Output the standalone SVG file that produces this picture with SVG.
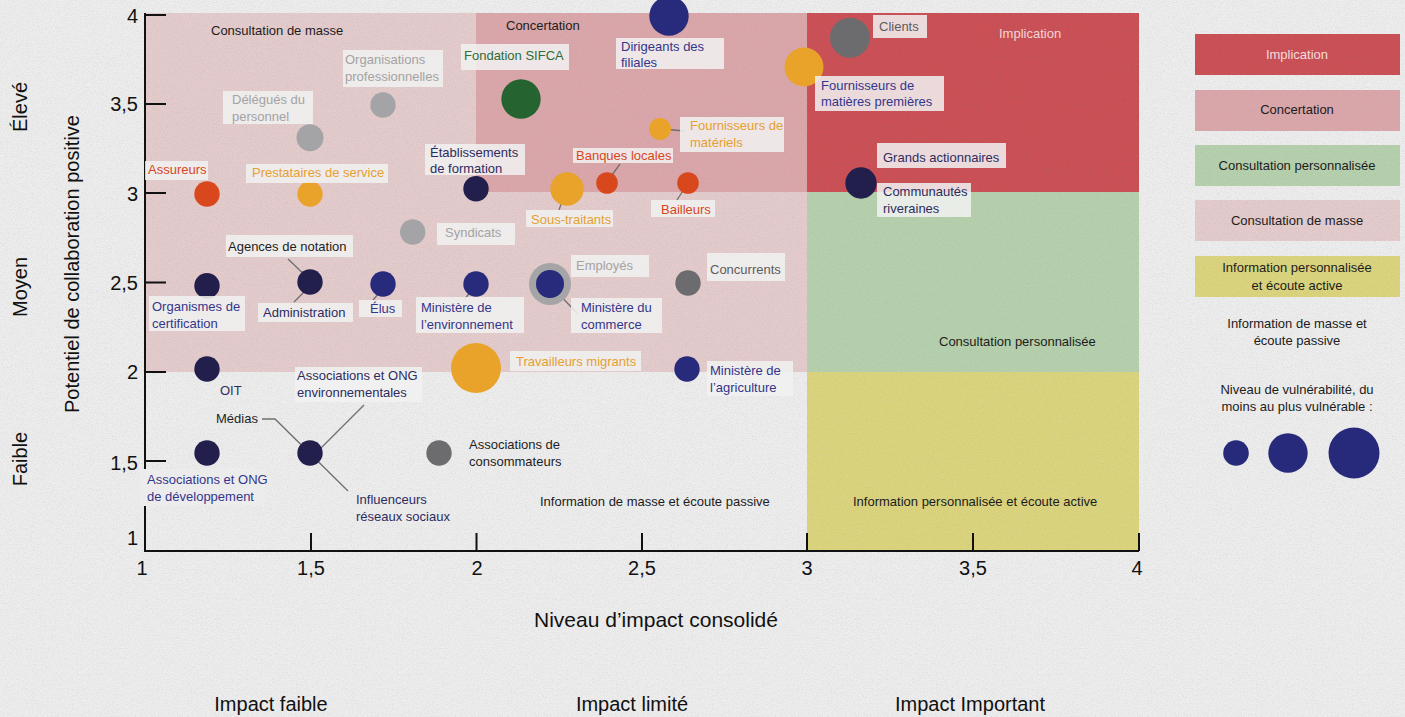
<svg xmlns="http://www.w3.org/2000/svg" width="1405" height="717" viewBox="0 0 1405 717">
  <defs>
    <filter id="grain" filterUnits="userSpaceOnUse" x="0" y="0" width="1405" height="717">
      <feTurbulence type="fractalNoise" baseFrequency="0.8" numOctaves="3" seed="7" stitchTiles="stitch"/>
      <feColorMatrix type="matrix" values="0 0 0 0 0.3  0 0 0 0 0.3  0 0 0 0 0.3  1.3 0 0 0 -0.55"/>
    </filter>
    <style>
      text{font-family:"Liberation Sans",Arial,sans-serif}
      .lbl{font-size:13px}
      .big{font-size:20px;fill:#111}
      .zone{font-size:13px;fill:#1c1c1c}
      .box{fill:#f1f1f1;fill-opacity:.86}
      .lead{stroke:#6f6f6f;stroke-width:1.3;fill:none}
      .axis{stroke:#111;stroke-width:2;fill:none}
      .c-navy{fill:#221f4d}
      .c-blue{fill:#282a7c}
      .c-orange{fill:#e9a32b}
      .c-red{fill:#d9481c}
      .c-lgray{fill:#a4a4a6}
      .c-dgray{fill:#6c6c6e}
      .c-green{fill:#256331}
      .t-navy{fill:#2d2c5e}
      .t-blue{fill:#34368a}
      .t-orange{fill:#e5a030}
      .t-red{fill:#d8461c}
      .t-lgray{fill:#a3a3a3}
      .t-dgray{fill:#5c5c5c}
      .t-green{fill:#2e6d36}
      .t-black{fill:#1e1e1e}
    </style>
  </defs>

  <!-- paper background -->
  <rect width="1405" height="717" fill="#ededed"/>

  <!-- engagement zones -->
  <g id="zones">
    <rect x="145" y="13" width="662" height="359" fill="#e4cbcc"/>
    <rect x="476" y="13" width="331" height="179" fill="#dba6aa"/>
    <rect x="807" y="13" width="332" height="179" fill="#ca4e54"/>
    <rect x="807" y="192" width="332" height="180" fill="#b5d0ac"/>
    <rect x="807" y="372" width="332" height="179" fill="#dbd47c"/>
  </g>

  <!-- legend swatches -->
  <g id="legend-swatches">
    <rect x="1195" y="34" width="205" height="41" fill="#ca4e54"/>
    <rect x="1195" y="90" width="205" height="41" fill="#dba6aa"/>
    <rect x="1195" y="145" width="205" height="41" fill="#b5d0ac"/>
    <rect x="1195" y="200" width="205" height="41" fill="#e4cbcc"/>
    <rect x="1195" y="256" width="205" height="41" fill="#dbd47c"/>
  </g>

  <!-- paper grain -->
  <rect width="1405" height="717" filter="url(#grain)" opacity="0.3"/>

  <!-- zone titles -->
  <g id="zone-titles">
    <text class="zone" x="211" y="34.5">Consultation de masse</text>
    <text class="zone" x="506" y="29.5">Concertation</text>
    <text class="zone" x="999" y="37.5" style="fill:#f4d6d6">Implication</text>
    <text class="zone" x="939" y="346">Consultation personnalisée</text>
    <text class="zone" x="540" y="506">Information de masse et écoute passive</text>
    <text class="zone" x="853" y="506">Information personnalisée et écoute active</text>
  </g>

  <!-- axes -->
  <g id="axes">
    <path class="axis" d="M145 13 V551 H1139"/>
    <path class="axis" d="M145 15 H166 M145 104 H166 M145 193 H166 M145 282.5 H166 M145 372 H166 M145 461 H166"/>
    <path class="axis" d="M311 551 V533 M476.5 551 V533 M642 551 V533 M807 551 V533 M973 551 V533 M1139 551 V533"/>
    <g class="big" text-anchor="end">
      <text x="138" y="23">4</text>
      <text x="138" y="111">3,5</text>
      <text x="138" y="201">3</text>
      <text x="138" y="290">2,5</text>
      <text x="138" y="379">2</text>
      <text x="138" y="470">1,5</text>
      <text x="138" y="545">1</text>
    </g>
    <g class="big" text-anchor="middle">
      <text x="142" y="575">1</text>
      <text x="311" y="575">1,5</text>
      <text x="477" y="575">2</text>
      <text x="642" y="575">2,5</text>
      <text x="807" y="575">3</text>
      <text x="973" y="575">3,5</text>
      <text x="1137" y="575">4</text>
      <text x="656" y="627" style="font-size:21px">Niveau d’impact consolidé</text>
      <text x="271" y="711">Impact faible</text>
      <text x="632" y="711">Impact limité</text>
      <text x="970" y="711">Impact Important</text>
      <text transform="translate(79 264) rotate(-90)">Potentiel de collaboration positive</text>
      <text transform="translate(27 107) rotate(-90)">Élevé</text>
      <text transform="translate(27 287) rotate(-90)">Moyen</text>
      <text transform="translate(27 459) rotate(-90)">Faible</text>
    </g>
  </g>

  <!-- leader lines -->
  <g id="connectors">
    <path class="lead" d="M662 129 L685 131"/>
    <path class="lead" d="M607 182 L620 164"/>
    <path class="lead" d="M688 183 L677 200"/>
    <path class="lead" d="M566 190 L559 210"/>
    <path class="lead" d="M288 259 L313 283 L294 302"/>
    <path class="lead" d="M385 286 L373 300"/>
    <path class="lead" d="M475 285 L465 299"/>
    <path class="lead" d="M552 287 L577 313"/>
    <path class="lead" d="M364 405 L313 456"/>
    <path class="lead" d="M262 419 H275 L348 491"/>
  </g>

  <!-- stakeholders -->
  <g id="dirigeants-filiales">
    <circle class="c-blue" cx="669" cy="16" r="19.7"/>
    <rect class="box" x="616" y="38" width="108" height="31"/>
    <text class="lbl t-blue" x="621" y="51">Dirigeants des</text>
    <text class="lbl t-blue" x="621" y="67">filiales</text>
  </g>
  <g id="fondation-sifca">
    <circle class="c-green" cx="521" cy="99" r="19.7"/>
    <rect class="box" x="461" y="44" width="108" height="26"/>
    <text class="lbl t-green" x="464" y="60">Fondation SIFCA</text>
  </g>
  <g id="clients">
    <circle class="c-dgray" cx="850" cy="37.7" r="20"/>
    <rect class="box" x="873" y="15" width="54" height="23"/>
    <text class="lbl t-dgray" x="879" y="31">Clients</text>
  </g>
  <g id="fournisseurs-matieres">
    <circle class="c-orange" cx="804" cy="67" r="19.5"/>
    <rect class="box" x="815" y="76" width="129" height="35"/>
    <text class="lbl t-blue" x="821" y="89.5">Fournisseurs de</text>
    <text class="lbl t-blue" x="821" y="105.5">matières premières</text>
  </g>
  <g id="fournisseurs-materiels">
    <circle class="c-orange" cx="660" cy="129" r="11"/>
    <rect class="box" x="680" y="117" width="104" height="35"/>
    <text class="lbl t-orange" x="690" y="130">Fournisseurs de</text>
    <text class="lbl t-orange" x="690" y="147">matériels</text>
  </g>
  <g id="grands-actionnaires">
    <circle class="c-navy" cx="861" cy="183" r="15.7"/>
    <rect class="box" x="877" y="143" width="129" height="25"/>
    <text class="lbl t-navy" x="883" y="162">Grands actionnaires</text>
  </g>
  <g id="communautes-riveraines">
    <rect class="box" x="877" y="183" width="94" height="34"/>
    <text class="lbl t-navy" x="883" y="196">Communautés</text>
    <text class="lbl t-navy" x="883" y="213">riveraines</text>
  </g>
  <g id="banques-locales">
    <circle class="c-red" cx="607" cy="183" r="10.8"/>
    <rect class="box" x="573" y="148" width="100" height="15"/>
    <text class="lbl t-red" x="576" y="160">Banques locales</text>
  </g>
  <g id="bailleurs">
    <circle class="c-red" cx="688" cy="183" r="10.8"/>
    <rect class="box" x="651" y="200" width="64" height="17"/>
    <text class="lbl t-red" x="661" y="214">Bailleurs</text>
  </g>
  <g id="sous-traitants">
    <circle class="c-orange" cx="567" cy="189" r="16.7"/>
    <rect class="box" x="526" y="210" width="87" height="17"/>
    <text class="lbl t-orange" x="531" y="224">Sous-traitants</text>
  </g>
  <g id="etablissements-formation">
    <circle class="c-navy" cx="476" cy="188.7" r="12.7"/>
    <rect class="box" x="425" y="144" width="100" height="31"/>
    <text class="lbl t-navy" x="430" y="157">Établissements</text>
    <text class="lbl t-navy" x="430" y="173">de formation</text>
  </g>
  <g id="syndicats">
    <circle class="c-lgray" cx="412.7" cy="232" r="12.7"/>
    <rect class="box" x="437" y="223" width="78" height="22"/>
    <text class="lbl t-lgray" x="445" y="237">Syndicats</text>
  </g>
  <g id="assureurs">
    <circle class="c-red" cx="207" cy="194" r="12.7"/>
    <rect class="box" x="145" y="161" width="63" height="19"/>
    <text class="lbl t-red" x="148" y="174">Assureurs</text>
  </g>
  <g id="prestataires-service">
    <circle class="c-orange" cx="310" cy="194" r="12.7"/>
    <rect class="box" x="246" y="164" width="142" height="19"/>
    <text class="lbl t-orange" x="252" y="177">Prestataires de service</text>
  </g>
  <g id="delegues-personnel">
    <circle class="c-lgray" cx="310" cy="137.7" r="13.5"/>
    <rect class="box" x="223" y="91" width="90" height="33"/>
    <text class="lbl t-lgray" x="232" y="104">Délégués du</text>
    <text class="lbl t-lgray" x="232" y="120.5">personnel</text>
  </g>
  <g id="organisations-professionnelles">
    <circle class="c-lgray" cx="383" cy="105" r="12.7"/>
    <rect class="box" x="343" y="50" width="100" height="37"/>
    <text class="lbl t-lgray" x="345" y="64">Organisations</text>
    <text class="lbl t-lgray" x="345" y="81">professionnelles</text>
  </g>
  <g id="agences-notation">
    <rect class="box" x="226" y="235" width="127" height="22"/>
    <text class="lbl t-black" x="228" y="250.5">Agences de notation</text>
  </g>
  <g id="administration">
    <circle class="c-navy" cx="310" cy="282" r="12.7"/>
    <rect class="box" x="258" y="303" width="95" height="19"/>
    <text class="lbl t-navy" x="263" y="317">Administration</text>
  </g>
  <g id="organismes-certification">
    <circle class="c-navy" cx="207" cy="285.7" r="12.7"/>
    <rect class="box" x="149" y="296" width="96" height="35"/>
    <text class="lbl t-blue" x="152" y="311">Organismes de</text>
    <text class="lbl t-blue" x="152" y="328">certification</text>
  </g>
  <g id="elus">
    <circle class="c-blue" cx="383" cy="284" r="12.7"/>
    <rect class="box" x="359" y="300" width="43" height="17"/>
    <text class="lbl t-blue" x="370" y="313">Élus</text>
  </g>
  <g id="ministere-environnement">
    <circle class="c-blue" cx="476" cy="284" r="12.7"/>
    <rect class="box" x="416" y="297" width="108" height="36"/>
    <text class="lbl t-blue" x="421" y="312">Ministère de</text>
    <text class="lbl t-blue" x="421" y="328.5">l’environnement</text>
  </g>
  <g id="employes">
    <circle cx="550" cy="284" r="21" fill="#a5a5a7"/>
    <rect class="box" x="571" y="255" width="78" height="22"/>
    <text class="lbl t-lgray" x="576" y="270">Employés</text>
  </g>
  <g id="ministere-commerce">
    <circle class="c-blue" cx="550" cy="284" r="14"/>
    <rect class="box" x="571" y="298" width="91" height="35"/>
    <text class="lbl t-blue" x="581" y="312">Ministère du</text>
    <text class="lbl t-blue" x="581" y="329">commerce</text>
  </g>
  <g id="concurrents">
    <circle class="c-dgray" cx="688" cy="283" r="12.7"/>
    <rect class="box" x="707" y="253" width="78" height="28"/>
    <text class="lbl t-dgray" x="710" y="274">Concurrents</text>
  </g>
  <g id="travailleurs-migrants">
    <circle class="c-orange" cx="476" cy="368" r="25"/>
    <rect class="box" x="510" y="351" width="131" height="20"/>
    <text class="lbl t-orange" x="516" y="366">Travailleurs migrants</text>
  </g>
  <g id="ministere-agriculture">
    <circle class="c-blue" cx="687" cy="369" r="12.7"/>
    <rect class="box" x="707" y="361" width="86" height="35"/>
    <text class="lbl t-blue" x="710" y="375">Ministère de</text>
    <text class="lbl t-blue" x="710" y="392">l’agriculture</text>
  </g>
  <g id="oit">
    <circle class="c-navy" cx="207" cy="369" r="12.7"/>
    <text class="lbl t-navy" x="220" y="394.5">OIT</text>
  </g>
  <g id="associations-ong-environnementales">
    <rect class="box" x="295" y="367" width="127" height="35"/>
    <text class="lbl t-navy" x="297" y="379.5">Associations et ONG</text>
    <text class="lbl t-navy" x="297" y="397">environnementales</text>
  </g>
  <g id="medias">
    <circle class="c-navy" cx="310" cy="453" r="12.7"/>
    <text class="lbl t-black" x="216" y="422.5">Médias</text>
  </g>
  <g id="influenceurs">
    <text class="lbl t-navy" x="356" y="503.5">Influenceurs</text>
    <text class="lbl t-navy" x="356" y="521">réseaux sociaux</text>
  </g>
  <g id="associations-ong-developpement">
    <circle class="c-navy" cx="207" cy="453" r="12.7"/>
    <rect x="140" y="469" width="125" height="37" fill="#ececec"/>
    <text class="lbl t-blue" x="147" y="484">Associations et ONG</text>
    <text class="lbl t-blue" x="147" y="501">de développement</text>
  </g>
  <g id="associations-consommateurs">
    <circle class="c-dgray" cx="439" cy="453" r="12.7"/>
    <text class="lbl t-black" x="469" y="448.5">Associations de</text>
    <text class="lbl t-black" x="469" y="465.5">consommateurs</text>
  </g>

  <!-- legend -->
  <g id="legend" text-anchor="middle">
    <text class="zone" x="1297" y="59" style="fill:#f6dcdc">Implication</text>
    <text class="zone" x="1297" y="114">Concertation</text>
    <text class="zone" x="1297" y="170">Consultation personnalisée</text>
    <text class="zone" x="1297" y="225">Consultation de masse</text>
    <text class="zone" x="1297" y="272">Information personnalisée</text>
    <text class="zone" x="1297" y="289.5">et écoute active</text>
    <text class="zone" x="1297" y="328">Information de masse et</text>
    <text class="zone" x="1297" y="344.5">écoute passive</text>
    <text class="zone" x="1297" y="394">Niveau de vulnérabilité, du</text>
    <text class="zone" x="1297" y="410.5">moins au plus vulnérable :</text>
    <circle cx="1236" cy="453" r="12.8" fill="#272a7a"/>
    <circle cx="1288" cy="453" r="19.7" fill="#272a7a"/>
    <circle cx="1354" cy="453" r="25.5" fill="#272a7a"/>
  </g>
</svg>
